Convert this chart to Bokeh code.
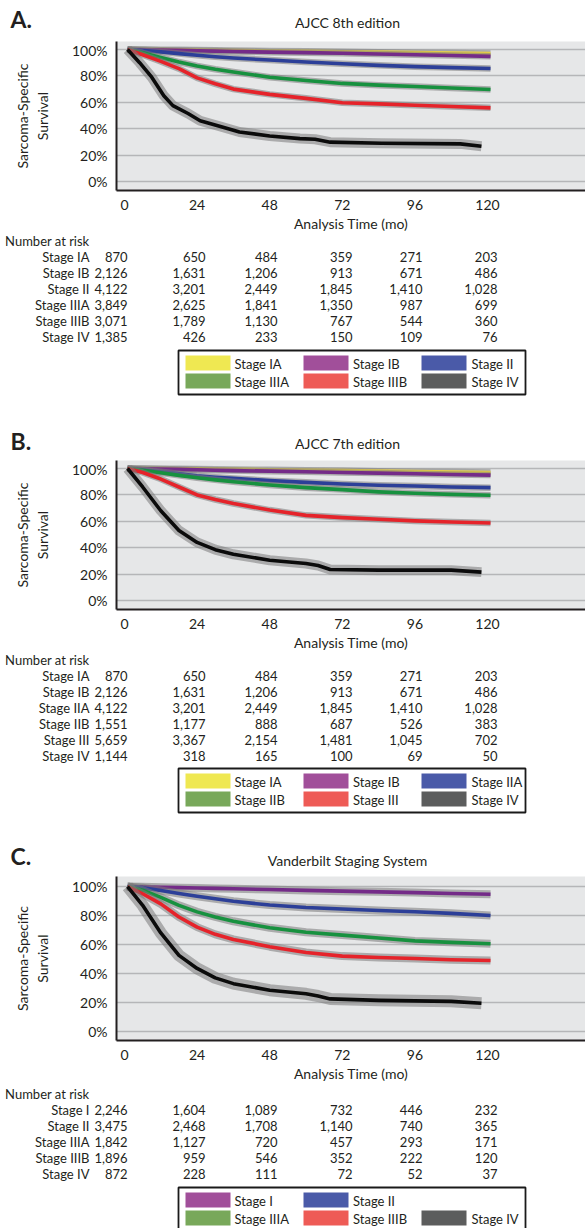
from bokeh.plotting import figure
from bokeh.layouts import column
from bokeh.models import Range1d, FixedTicker
from bokeh.core.properties import value
from bokeh.embed import file_html
from bokeh.resources import INLINE

# ---------------- data ----------------
X_TICKS = [0, 24, 48, 72, 96, 120]
Y_TICKS = [0, 20, 40, 60, 80, 100]
Y_TICK_LABELS = ["0%", "20%", "40%", "60%", "80%", "100%"]
RISK_TIMES = [0, 24, 48, 72, 96, 120]
X_LABEL = "Analysis Time (mo)"
Y_LABEL = "Sarcoma-Specific\nSurvival"
NAR_LABEL = "Number at risk"

# Panel A: AJCC 8th edition
A_LETTER = "A."
A_TITLE = "AJCC 8th edition"
A_T = [1, 6, 12, 18, 24, 30, 36, 48, 60, 72, 84, 96, 108, 121]
A_IA = [100, 100, 99.9, 99.8, 99.6, 99.4, 99.2, 98.9, 98.6, 98.3, 98.0, 97.6, 97.3, 97.0]
A_IB = [100, 99.8, 99.5, 99.3, 99.0, 98.8, 98.5, 98.0, 97.6, 97.2, 96.6, 96.0, 95.4, 94.8]
A_II = [100, 99.3, 98.2, 96.9, 95.6, 94.5, 93.5, 92.0, 90.5, 89.2, 88.0, 87.0, 86.3, 85.6]
A_IIIA = [100, 97.5, 94.0, 90.5, 87.5, 85.0, 83.0, 79.0, 76.5, 74.3, 73.0, 72.0, 70.8, 69.7]
A_IIIB = [100, 96.0, 91.0, 85.5, 78.5, 74.0, 70.0, 66.0, 63.0, 59.7, 58.8, 57.8, 56.8, 55.8]
A_T_IV = [1, 5, 9, 13, 16, 21, 25, 32, 38, 48, 58, 63, 68, 85, 111, 118]
A_IV = [100, 90, 79, 65, 57.5, 51.5, 46, 41.5, 37.5, 34.5, 32.5, 32, 29.8, 29, 28.5, 26.7]
A_STAGES = ["Stage IA", "Stage IB", "Stage II", "Stage IIIA", "Stage IIIB", "Stage IV"]
A_RISK = [
    [870, 650, 484, 359, 271, 203],
    [2126, 1631, 1206, 913, 671, 486],
    [4122, 3201, 2449, 1845, 1410, 1028],
    [3849, 2625, 1841, 1350, 987, 699],
    [3071, 1789, 1130, 767, 544, 360],
    [1385, 426, 233, 150, 109, 76],
]

# Panel B: AJCC 7th edition
B_LETTER = "B."
B_TITLE = "AJCC 7th edition"
B_T = [1, 6, 12, 18, 24, 30, 36, 48, 60, 72, 84, 96, 108, 121]
B_IA = [100, 100, 99.9, 99.8, 99.7, 99.5, 99.3, 99.0, 98.7, 98.4, 98.0, 97.6, 97.3, 97.0]
B_IB = [100, 99.8, 99.6, 99.3, 99.0, 98.7, 98.4, 98.0, 97.5, 97.0, 96.5, 96.0, 95.5, 95.0]
B_IIA = [100, 99.0, 97.5, 96.0, 94.5, 93.4, 92.5, 90.8, 89.5, 88.3, 87.3, 86.7, 86.0, 85.5]
B_IIB = [100, 98.7, 96.8, 94.8, 93.0, 91.4, 90.0, 87.5, 85.5, 84.0, 82.3, 81.2, 80.4, 79.7]
B_III = [100, 97.0, 92.0, 86.0, 80.0, 76.5, 73.5, 68.5, 64.5, 62.8, 61.5, 60.3, 59.5, 58.7]
B_T_IV = [1, 6, 12, 18, 24, 30, 36, 48, 60, 64, 68, 84, 108, 118]
B_IV = [100, 86, 68, 53, 44, 38.5, 35, 30.5, 28, 26.5, 23.5, 23, 23, 21.5]
B_STAGES = ["Stage IA", "Stage IB", "Stage IIA", "Stage IIB", "Stage III", "Stage IV"]
B_RISK = [
    [870, 650, 484, 359, 271, 203],
    [2126, 1631, 1206, 913, 671, 486],
    [4122, 3201, 2449, 1845, 1410, 1028],
    [1551, 1177, 888, 687, 526, 383],
    [5659, 3367, 2154, 1481, 1045, 702],
    [1144, 318, 165, 100, 69, 50],
]

# Panel C: Vanderbilt Staging System
C_LETTER = "C."
C_TITLE = "Vanderbilt Staging System"
C_T = [1, 6, 12, 18, 24, 30, 36, 48, 60, 72, 84, 96, 108, 121]
C_I = [100, 99.8, 99.5, 99.2, 99.0, 98.7, 98.4, 97.9, 97.3, 96.8, 96.3, 95.8, 95.2, 94.7]
C_II = [100, 99.2, 97.2, 95.2, 93.3, 91.6, 89.8, 87.2, 85.5, 84.5, 83.4, 82.6, 81.5, 80.0]
C_IIIA = [100, 97.5, 92.5, 87.0, 82.5, 79.0, 76.0, 71.5, 68.5, 66.5, 64.5, 62.5, 61.5, 60.5]
C_IIIB = [100, 95.0, 88.0, 79.0, 72.0, 67.0, 63.5, 58.5, 54.5, 52.0, 51.0, 50.3, 49.5, 49.0]
C_T_IV = [1, 6, 12, 18, 24, 30, 36, 48, 60, 64, 68, 84, 108, 118]
C_IV = [100, 87, 68, 52.5, 43.5, 37, 33, 28.5, 26, 24.5, 22.5, 21.5, 20.8, 19.5]
C_STAGES = ["Stage I", "Stage II", "Stage IIIA", "Stage IIIB", "Stage IV"]
C_RISK = [
    [2246, 1604, 1089, 732, 446, 232],
    [3475, 2468, 1708, 1140, 740, 365],
    [1842, 1127, 720, 457, 293, 171],
    [1896, 959, 546, 352, 222, 120],
    [872, 228, 111, 72, 52, 37],
]

# ---------------- style ----------------
FONT = "Lato"
TXT = "#231f20"
BG = "#e6e7e8"
GRID = "#b5b6b8"
HALO = "#7a7a7a"
LINE = {"yellow": "#e8cf45", "purple": "#742b88", "blue": "#2c3f98",
        "green": "#17913f", "red": "#e5232a", "black": "#0b0b0b"}
SWATCH = {"yellow": "#efe852", "purple": "#a14f9a", "blue": "#4a5aa8",
          "green": "#78a85a", "red": "#ee5b56", "black": "#5c5d5d"}

W = 585
PX_PER_MONTH = 3.025
X0_PAGE = 124.0          # page x of month 0
FRAME_L, FRAME_R = 116, 585
BOTTOM = 44


def m_of(px):
    return (px - X0_PAGE) / PX_PER_MONTH


def km_plot(frame_h, y_lo, y_hi, curves, halo_w, black_halo_w):
    p = figure(width=W, height=frame_h + BOTTOM, output_backend="svg",
               toolbar_location=None, frame_align=False,
               x_range=Range1d(m_of(FRAME_L), m_of(FRAME_R)),
               y_range=Range1d(y_lo, y_hi),
               min_border_left=FRAME_L, min_border_right=0,
               min_border_top=0, min_border_bottom=BOTTOM)
    p.background_fill_color = BG
    p.border_fill_color = "white"
    p.outline_line_color = None
    p.xgrid.visible = False
    p.ygrid.ticker = FixedTicker(ticks=Y_TICKS)
    p.ygrid.grid_line_color = GRID
    p.ygrid.grid_line_width = 1.6
    for ax in (p.xaxis[0], p.yaxis[0]):
        ax.axis_line_color = TXT
        ax.axis_line_width = 2
        ax.major_tick_line_color = None
        ax.minor_tick_line_color = None
        ax.major_tick_in = 0
        ax.major_tick_out = 0
        ax.major_label_text_font = FONT
        ax.major_label_text_font_size = "14px"
        ax.major_label_text_color = TXT
        ax.axis_label_text_font = FONT
        ax.axis_label_text_font_size = "14px"
        ax.axis_label_text_font_style = "normal"
        ax.axis_label_text_color = TXT
    p.xaxis.ticker = FixedTicker(ticks=X_TICKS)
    p.xaxis.axis_label = X_LABEL
    p.xaxis.major_label_standoff = 9
    p.xaxis.axis_label_standoff = 2
    p.yaxis.ticker = FixedTicker(ticks=Y_TICKS)
    p.yaxis.major_label_overrides = {t: l for t, l in zip(Y_TICKS, Y_TICK_LABELS)}
    p.yaxis.axis_label = Y_LABEL
    p.yaxis.major_label_standoff = 9
    p.yaxis.axis_label_standoff = 18

    for t, s, cname in curves:
        hw = black_halo_w if cname == "black" else halo_w
        p.line(t, s, line_color=HALO, line_width=hw, line_alpha=0.55, line_join="round")
        p.line(t, s, line_color=LINE[cname], line_width=3.6, line_join="round")
    return p


def text_fig(page_top, height):
    p = figure(width=W, height=height, output_backend="svg", toolbar_location=None,
               frame_align=False,
               x_range=Range1d(m_of(0), m_of(W)),
               y_range=Range1d(page_top + height, page_top),
               x_axis_location=None, y_axis_location=None,
               min_border=0, min_border_left=0, min_border_right=0,
               min_border_top=0, min_border_bottom=0)
    p.grid.visible = False
    p.outline_line_color = None
    p.background_fill_color = "white"
    p.border_fill_color = "white"
    return p


TK = dict(text_font=value(FONT), text_font_size="13px", text_color=TXT,
          text_baseline="middle")


def add_heading(p, letter, title, letter_y, title_y):
    p.text(x=[m_of(10)], y=[letter_y], text=[letter], text_align="left",
           text_font=value(FONT), text_font_size="23px", text_font_style="bold",
           text_color=TXT, text_baseline="middle")
    p.text(x=[m_of(347)], y=[title_y], text=[title], text_align="center",
           text_font=value(FONT), text_font_size="14px", text_color=TXT,
           text_baseline="middle")


COL_OFF = [1.0, 2.8, 2.6, 3.4, 2.5, 3.3]


def add_table(p, stages, risk, leg_colors, leg_slots, nar_y, row_dy, leg_top):
    p.text(x=[m_of(89)], y=[nar_y], text=[NAR_LABEL], text_align="right", **TK)
    ys = [nar_y + row_dy * (i + 1) for i in range(len(stages))]
    p.text(x=[m_of(89)] * len(stages), y=ys, text=stages, text_align="right", **TK)
    xs, yy, tx = [], [], []
    for i, row in enumerate(risk):
        for j, v in enumerate(row):
            xs.append(RISK_TIMES[j] + COL_OFF[j])
            yy.append(ys[i])
            tx.append(f"{v:,}")
    p.text(x=xs, y=yy, text=tx, text_align="right", **TK)

    # legend box
    p.quad(left=[m_of(178)], right=[m_of(525)], top=[leg_top], bottom=[leg_top + 44],
           fill_color=None, line_color="#1a1a1a", line_width=1.8)
    sl, sr, st, sb, lx, ly = [], [], [], [], [], []
    for (c, r) in leg_slots:
        sl.append(m_of(185 + 118 * c))
        sr.append(m_of(230 + 118 * c))
        st.append(leg_top + 5 + 18 * r)
        sb.append(leg_top + 20 + 18 * r)
        lx.append(m_of(234 + 118.5 * c))
        ly.append(leg_top + 13.5 + 18 * r)
    p.quad(left=sl, right=sr, top=st, bottom=sb,
           fill_color=[SWATCH[c] for c in leg_colors], line_color=None)
    p.text(x=lx, y=ly, text=stages, text_align="left", **TK)


SLOTS_6 = [(0, 0), (1, 0), (2, 0), (0, 1), (1, 1), (2, 1)]
SLOTS_5 = [(0, 0), (1, 0), (0, 1), (1, 1), (2, 1)]
COLORS_6 = ["yellow", "purple", "blue", "green", "red", "black"]
COLORS_5 = ["purple", "blue", "green", "red", "black"]

# header for A (page 0..41)
hA = text_fig(0, 41)
add_heading(hA, A_LETTER, A_TITLE, 18, 22)

# KM A (frame page 41..190)
kA = km_plot(149, -6.82, 106.06,
             [(A_T, A_IA, "yellow"), (A_T, A_IB, "purple"), (A_T, A_II, "blue"),
              (A_T, A_IIIA, "green"), (A_T, A_IIIB, "red"), (A_T_IV, A_IV, "black")],
             6.5, 10)

# table A + heading B (page 234..460)
tA = text_fig(234, 226)
add_table(tA, A_STAGES, A_RISK, COLORS_6, SLOTS_6, 240, 16, 350)
add_heading(tA, B_LETTER, B_TITLE, 440, 443)

# KM B (frame page 460..609)
kB = km_plot(149, -6.82, 106.06,
             [(B_T, B_IA, "yellow"), (B_T, B_IB, "purple"), (B_T, B_IIA, "blue"),
              (B_T, B_IIB, "green"), (B_T, B_III, "red"), (B_T_IV, B_IV, "black")],
             6.5, 10)

# table B + heading C (page 653..876)
tB = text_fig(653, 223)
add_table(tB, B_STAGES, B_RISK, COLORS_6, SLOTS_6, 659, 16, 768)
add_heading(tB, C_LETTER, C_TITLE, 855, 860)

# KM C (frame page 876..1040)
kC = km_plot(164, -6.2, 106.9,
             [(C_T, C_I, "purple"), (C_T, C_II, "blue"), (C_T, C_IIIA, "green"),
              (C_T, C_IIIB, "red"), (C_T_IV, C_IV, "black")],
             8, 12)

# table C (page 1084..1228)
tC = text_fig(1084, 144)
add_table(tC, C_STAGES, C_RISK, COLORS_5, SLOTS_5, 1093, 16, 1187)

layout = column(hA, kA, tA, kB, tB, kC, tC, spacing=0)
open("out.html", "w").write(file_html(layout, INLINE))
